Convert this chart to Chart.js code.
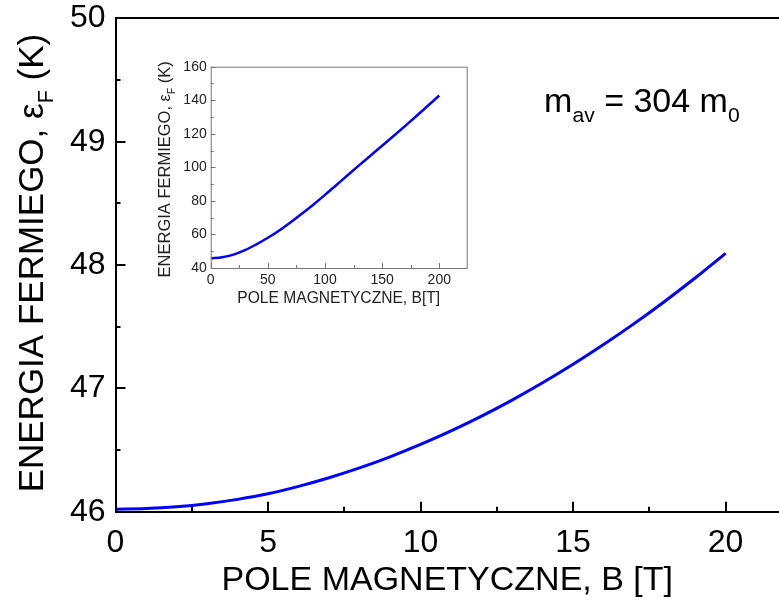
<!DOCTYPE html>
<html><head><meta charset="utf-8">
<script src="https://cdn.jsdelivr.net/npm/chart.js@4/dist/chart.umd.min.js"></script>
<style>
html,body{margin:0;padding:0;background:#fff;overflow:hidden}
#wrap{position:relative;width:779px;height:605px}
#main{position:absolute;left:0;top:0}
#inset{position:absolute;left:150px;top:50px}
</style></head><body>
<div id="wrap"><canvas id="main" width="779" height="605"></canvas><canvas id="inset" width="330" height="260"></canvas></div>
<script>
// ---- main chart data ----
const mainB = [0,1,2,3,4,5,6,7,8,9,10,11,12,13,14,15,16,17,18,19,20];
const mainE = [46.02,46.025,46.04,46.065,46.1,46.145,46.205,46.275,46.355,46.445,46.545,46.655,46.775,46.905,47.045,47.195,47.355,47.525,47.705,47.895,48.095];
const mainXTicks = [0,5,10,15,20];
const mainXMinor = [2.5,7.5,12.5,17.5];
const mainYTicks = [46,47,48,49,50];
const mainYMinor = [46.5,47.5,48.5,49.5];
// ---- inset data ----
const insetB = [0,10,20,30,40,50,60,70,80,90,100,110,120,130,140,150,160,170,180,190,200];
const insetE = [45.8,46.4,48.0,50.6,54.1,58.0,62.4,67.3,72.5,77.9,83.6,89.5,95.4,101.3,107.1,112.9,118.7,124.6,130.6,136.7,142.8];
const insetXTicks = [0,50,100,150,200];
const insetXMinor = [25,75,125,175];
const insetYTicks = [40,60,80,100,120,140,160];
const insetYMinor = [50,70,90,110,130,150];

const FONT = "'Liberation Sans', Arial, sans-serif";

function drawSegments(ctx, segs, x, y, size, align){
  const subSize = size*0.62;
  let total = 0;
  segs.forEach(s=>{ctx.font = (s.sub?subSize:size)+'px '+FONT; s.w = ctx.measureText(s.t).width; total += s.w;});
  let cx = align==='center' ? x - total/2 : x;
  segs.forEach(s=>{
    ctx.font = (s.sub?subSize:size)+'px '+FONT;
    ctx.fillText(s.t, cx, y + (s.sub ? size*0.28 : 0));
    cx += s.w;
  });
}

const decor = {
  id:'decor',
  afterDatasetsDraw(chart, args, o){
    const ctx = chart.ctx, a = chart.chartArea;
    const xs = chart.scales.x, ys = chart.scales.y;
    ctx.save();
    ctx.strokeStyle = o.color; ctx.lineWidth = o.tickWidth;
    ctx.beginPath();
    const xt = (v,len)=>{const p = Math.round(xs.getPixelForValue(v))+0.5*(o.tickWidth%2); ctx.moveTo(p,a.bottom); ctx.lineTo(p,a.bottom-len);};
    const yt = (v,len)=>{const p = Math.round(ys.getPixelForValue(v))+0.5*(o.tickWidth%2); ctx.moveTo(a.left,p); ctx.lineTo(a.left+len,p);};
    o.xMajor.forEach(v=>xt(v,o.majorLen)); o.xMinor.forEach(v=>xt(v,o.minorLen));
    o.yMajor.forEach(v=>yt(v,o.majorLen)); o.yMinor.forEach(v=>yt(v,o.minorLen));
    ctx.stroke();
    if(o.frame){
      ctx.lineWidth = o.frameWidth; ctx.strokeStyle = o.frameColor;
      ctx.strokeRect(a.left+0.5, a.top+0.5, a.right-a.left, a.bottom-a.top);
    }
    ctx.restore();
  },
  afterDraw(chart, args, o){
    const ctx = chart.ctx, a = chart.chartArea;
    ctx.save();
    ctx.fillStyle = o.textColor;
    ctx.textBaseline = 'alphabetic';
    ctx.textAlign = 'left';
    ctx.save();
    ctx.translate(o.yTitle.x, (a.top+a.bottom)/2 + (o.yTitle.dy||0));
    ctx.rotate(-Math.PI/2);
    drawSegments(ctx, o.yTitle.segs, 0, 0, o.yTitle.size, 'center');
    ctx.restore();
    if(o.annot){
      const px = chart.scales.x.getPixelForValue(o.annot.x), py = chart.scales.y.getPixelForValue(o.annot.y);
      drawSegments(ctx, o.annot.segs, px, py, o.annot.size, 'left');
    }
    ctx.restore();
  }
};

const yTitleSegs = [{t:'ENERGIA FERMIEGO, \u03B5'},{t:'F',sub:true},{t:' (K)'}];
const noPadX = s=>{s.paddingLeft = 0; s.paddingRight = 0;};
const noPadY = s=>{s.paddingTop = 0; s.paddingBottom = 0;};

new Chart(document.getElementById('main'), {
  type:'line',
  data:{datasets:[{data: mainB.map((b,i)=>({x:b,y:mainE[i]})), borderColor:'#0000ff', borderWidth:3, pointRadius:0, cubicInterpolationMode:'monotone', fill:false}]},
  options:{
    responsive:false, animation:false, devicePixelRatio:1,
    layout:{padding:{left:0,right:0,top:0,bottom:0}},
    plugins:{legend:{display:false}, tooltip:{enabled:false},
      decor:{color:'#000', tickWidth:2, majorLen:10, minorLen:5, xMajor:mainXTicks, xMinor:mainXMinor, yMajor:mainYTicks, yMinor:mainYMinor, frame:false, textColor:'#000',
        yTitle:{x:43, size:35, dy:-2, segs:yTitleSegs},
        annot:{x:14.05, y:49.24, size:34, segs:[{t:'m'},{t:'av',sub:true},{t:' = 304 m'},{t:'0',sub:true}]}}},
    scales:{
      x:{type:'linear', position:'bottom', min:0, max:21.75,
        afterBuildTicks:s=>{s.ticks = mainXTicks.map(v=>({value:v}));},
        afterFit:s=>{s.height = 93.3; noPadX(s);},
        grid:{display:false, drawTicks:false}, border:{display:true, color:'#000', width:2},
        ticks:{color:'#000', font:{family:FONT, size:32}, padding:12, maxRotation:0},
        title:{display:true, text:'POLE MAGNETYCZNE, B [T]', color:'#000', font:{family:FONT, size:34}, padding:{top:0,bottom:4}}},
      x2:{type:'linear', position:'top', min:0, max:21.75,
        afterFit:s=>{s.height = 18.4; noPadX(s);},
        grid:{display:false, drawTicks:false}, border:{display:true, color:'#000', width:2},
        ticks:{display:false}},
      y:{type:'linear', position:'left', min:46, max:50,
        afterBuildTicks:s=>{s.ticks = mainYTicks.map(v=>({value:v}));},
        afterFit:s=>{s.width = 115.5; noPadY(s);},
        grid:{display:false, drawTicks:false}, border:{display:true, color:'#000', width:2},
        ticks:{color:'#000', font:{family:FONT, size:32}, padding:10}}
    }
  },
  plugins:[decor]
});

new Chart(document.getElementById('inset'), {
  type:'line',
  data:{datasets:[{data: insetB.map((b,i)=>({x:b,y:insetE[i]})), borderColor:'#0000ff', borderWidth:2.5, pointRadius:0, cubicInterpolationMode:'monotone', fill:false}]},
  options:{
    responsive:false, animation:false, devicePixelRatio:1,
    layout:{padding:{left:0,right:13.3,top:16.7,bottom:0}},
    plugins:{legend:{display:false}, tooltip:{enabled:false},
      decor:{color:'#777', tickWidth:1, majorLen:5, minorLen:3, xMajor:insetXTicks, xMinor:insetXMinor, yMajor:insetYTicks, yMinor:insetYMinor, frame:true, frameColor:'#777', frameWidth:1, textColor:'#222',
        yTitle:{x:20, size:16.5, dy:2, segs:yTitleSegs}}},
    scales:{
      x:{type:'linear', position:'bottom', min:0, max:224,
        afterBuildTicks:s=>{s.ticks = insetXTicks.map(v=>({value:v}));},
        afterFit:s=>{s.height = 42; noPadX(s);},
        grid:{display:false, drawTicks:false}, border:{display:false},
        ticks:{color:'#222', font:{family:FONT, size:14}, padding:4, maxRotation:0},
        title:{display:true, text:'POLE MAGNETYCZNE, B[T]', color:'#222', font:{family:FONT, size:15.6}, padding:{top:0,bottom:2}}},
      y:{type:'linear', position:'left', min:40, max:160,
        afterBuildTicks:s=>{s.ticks = insetYTicks.map(v=>({value:v}));},
        afterFit:s=>{s.width = 60.7; noPadY(s);},
        grid:{display:false, drawTicks:false}, border:{display:false},
        ticks:{color:'#222', font:{family:FONT, size:14}, padding:4}}
    }
  },
  plugins:[decor]
});
</script>
</body></html>
